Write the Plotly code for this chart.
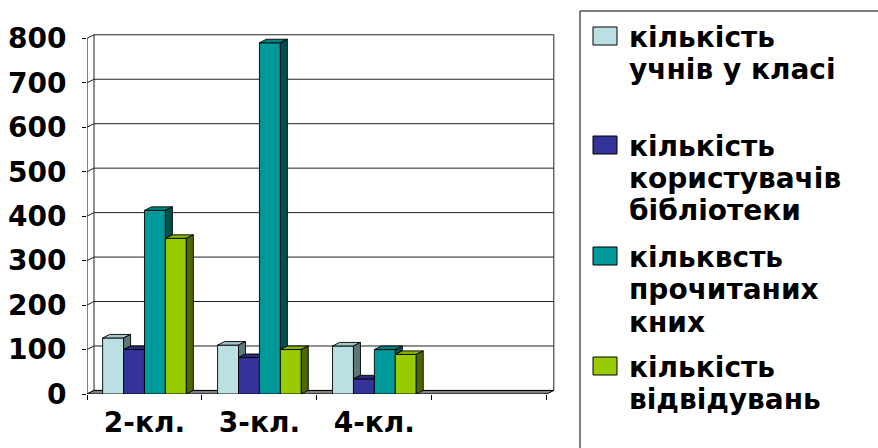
import plotly.graph_objects as go

# ---------------- data ----------------
categories = ["2-кл.", "3-кл.", "4-кл.", ""]
students = [126, 110, 108, None]      # кількість учнів у класі
users = [100, 82, 34, None]           # кількість користувачів бібліотеки
books = [413, 790, 100, None]         # кільквсть прочитаних кних
visits = [350, 100, 89, None]         # кількість відвідувань
series_lines = [
    ["кількість", "учнів у класі"],
    ["кількість", "користувачів", "бібліотеки"],
    ["кільквсть", "прочитаних", "кних"],
    ["кількість", "відвідувань"],
]
y_ticks = [0, 100, 200, 300, 400, 500, 600, 700, 800]

# ---------------- style ----------------
front_colors = ["#BBE0E3", "#333399", "#009999", "#99CC00"]
top_colors = ["#A3C4C7", "#2B2B85", "#008383", "#86B300"]
side_colors = ["#5F7677", "#1C1C5C", "#004F4F", "#4C6600"]

W, H = 878, 448
ML, MR, MT, MB = 87, 322, 33, 54
X_RANGE = [-0.5, 3.58]
Y_RANGE = [0, 812]
BAR_W = 0.182
DX, DY = 0.061, 8.0
FONT = "DejaVu Sans"

PW = W - ML - MR
PH = H - MT - MB


def px2x(px):
    return (px - ML) / PW


def py2y(py):
    return (H - MB - py) / PH


series = [students, users, books, visits]
xs = list(range(len(categories)))
nser = len(series)

fig = go.Figure()

# front faces as real bars
for i, vals in enumerate(series):
    fig.add_trace(go.Bar(
        x=xs, y=vals, width=BAR_W, offset=(i - nser / 2) * BAR_W,
        marker=dict(color=front_colors[i], line=dict(color="black", width=0.9)),
        name=" ".join(series_lines[i]), showlegend=False,
    ))

# 3-D top and side faces derived from the same values
for i, vals in enumerate(series):
    tx, ty, sx, sy = [], [], [], []
    for j, v in enumerate(vals):
        if v is None:
            continue
        x0 = xs[j] + (i - nser / 2) * BAR_W
        x1 = x0 + BAR_W
        n = series[i + 1][j] if i + 1 < nser else 0
        n = n or 0
        if n <= v:
            pts = [(x0, v), (x1, v), (x1 + DX, v + DY), (x0 + DX, v + DY)]
        else:
            pts = [(x0, v), (x1, v), (x1, v + DY), (x0 + DX, v + DY)]
        pts.append(pts[0])
        tx += [p[0] for p in pts] + [None]
        ty += [p[1] for p in pts] + [None]
        if n < v:
            spts = [(x1, n), (x1, v), (x1 + DX, v + DY), (x1 + DX, n + DY), (x1, n)]
            sx += [p[0] for p in spts] + [None]
            sy += [p[1] for p in spts] + [None]
    fig.add_trace(go.Scatter(x=tx, y=ty, mode="lines", fill="toself",
                             fillcolor=top_colors[i], line=dict(color="black", width=0.9),
                             hoverinfo="skip", showlegend=False))
    fig.add_trace(go.Scatter(x=sx, y=sy, mode="lines", fill="toself",
                             fillcolor=side_colors[i], line=dict(color="black", width=0.9),
                             hoverinfo="skip", showlegend=False))

# dummy trace for the boundary-tick axis
fig.add_trace(go.Scatter(x=[None], y=[None], xaxis="x2", showlegend=False, hoverinfo="skip"))

shapes = []
left, right = X_RANGE[0], len(categories) - 0.5
# back wall gridlines + connectors to the front axis
for t in y_ticks:
    shapes.append(dict(type="line", xref="x", yref="y", layer="below",
                       x0=left + DX, x1=right + DX, y0=t + DY, y1=t + DY,
                       line=dict(color="#222222", width=1)))
    shapes.append(dict(type="line", xref="x", yref="y", layer="below",
                       x0=left, x1=left + DX, y0=t, y1=t + DY,
                       line=dict(color="#222222", width=1)))
# back wall verticals
for xv in (left + DX, right + DX):
    shapes.append(dict(type="line", xref="x", yref="y", layer="below",
                       x0=xv, x1=xv, y0=DY, y1=y_ticks[-1] + DY,
                       line=dict(color="#222222", width=1)))
# front value axis
shapes.append(dict(type="line", xref="x", yref="y", layer="below",
                   x0=left, x1=left, y0=0, y1=y_ticks[-1],
                   line=dict(color="black", width=1)))
# floor
shapes.append(dict(type="path", xref="x", yref="y", layer="below",
                   path=f"M {left},0 L {right},0 L {right + DX},{DY} L {left + DX},{DY} Z",
                   fillcolor="#808080", line=dict(color="black", width=1)))

# legend box
shapes.append(dict(type="rect", xref="paper", yref="paper",
                   x0=px2x(580), x1=px2x(905), y0=py2y(475), y1=py2y(11),
                   line=dict(color="black", width=1), fillcolor="rgba(0,0,0,0)"))

annotations = []
item_tops = [27, 136, 247, 357]
for i, lines in enumerate(series_lines):
    top = item_tops[i]
    shapes.append(dict(type="rect", xref="paper", yref="paper",
                       x0=px2x(593), x1=px2x(617), y0=py2y(top + 18), y1=py2y(top),
                       fillcolor=front_colors[i], line=dict(color="black", width=1)))
    for k, txt in enumerate(lines):
        annotations.append(dict(
            text=txt, xref="paper", yref="paper", x=px2x(627), y=py2y(top + 10 + 32.5 * k),
            xanchor="left", yanchor="middle", showarrow=False,
            font=dict(family=FONT, size=28, color="black", weight="bold"),
        ))

fig.update_layout(
    width=W, height=H,
    margin=dict(l=ML, r=MR, t=MT, b=MB, pad=0, autoexpand=False),
    paper_bgcolor="white", plot_bgcolor="white",
    barmode="overlay",
    showlegend=False,
    shapes=shapes, annotations=annotations,
    xaxis=dict(range=X_RANGE, tickvals=xs, ticktext=categories, ticks="",
               showgrid=False, zeroline=False, showline=False, automargin=False,
               tickfont=dict(family=FONT, size=28, color="black", weight="bold"),
               ticklabelstandoff=9),
    xaxis2=dict(range=X_RANGE, overlaying="x", anchor="y", side="bottom",
                tickvals=[xv - 0.5 for xv in xs] + [right], automargin=False,
                ticks="outside", ticklen=5, tickcolor="black", tickwidth=1,
                showticklabels=False, showgrid=False, zeroline=False, showline=False),
    yaxis=dict(range=Y_RANGE, tickvals=y_ticks, ticks="outside", ticklen=4,
               tickcolor="black", tickwidth=1, automargin=False,
               showgrid=False, zeroline=False, showline=False,
               tickfont=dict(family=FONT, size=28, color="black", weight="bold"),
               ticklabelstandoff=10),
)

fig.write_html("out.html", config={"displayModeBar": False},
               post_script="document.body.style.margin='0px';")
